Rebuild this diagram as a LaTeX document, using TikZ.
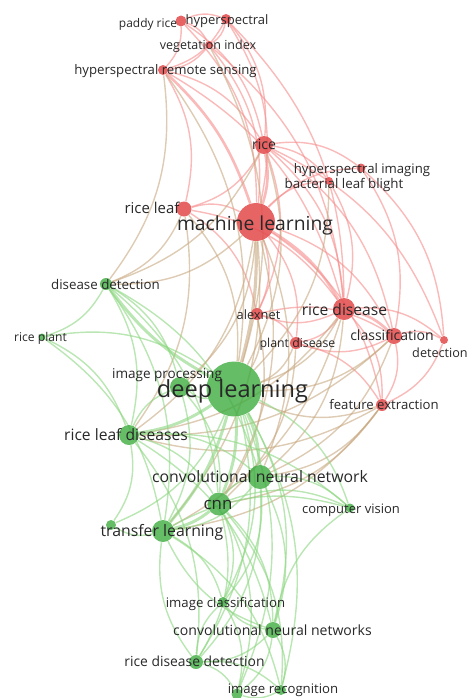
\documentclass[tikz,border=0pt]{standalone}
\usepackage{fontspec}
\newfontfamily\labelfont{Open Sans}
\usetikzlibrary{backgrounds}
\definecolor{nodered}{RGB}{228,78,80}
\definecolor{nodegreen}{RGB}{62,172,64}
\definecolor{linkred}{RGB}{246,140,140}
\definecolor{linkgreen}{RGB}{140,214,128}
\definecolor{linkmix}{RGB}{200,168,128}
\definecolor{labeltext}{RGB}{40,40,40}
\begin{document}
\begin{tikzpicture}[
    x=0.02cm, y=-0.02cm,
    kwred/.style={circle, fill=nodered, fill opacity=0.88, inner sep=0, minimum size=#1*0.02cm},
    kwgreen/.style={circle, fill=nodegreen, fill opacity=0.8, inner sep=0, minimum size=#1*0.02cm},
    kwlabel/.style={font=\labelfont\fontsize{#1}{#1}\selectfont, text=labeltext, anchor=base, inner sep=0},
    redlink/.style={draw=linkred, line width=0.8pt, opacity=0.6},
    greenlink/.style={draw=linkgreen, line width=0.8pt, opacity=0.6},
    mixlink/.style={draw=linkmix, line width=0.8pt, opacity=0.6}
]
    \useasboundingbox (0,0) rectangle (470,698);

    \node[kwred=11] (paddy) at (181,21) {};
    \node[kwred=10] (hyper) at (226,19) {};
    \node[kwred=8] (vegidx) at (209,45) {};
    \node[kwred=10] (hrs) at (163,70) {};
    \node[kwred=18] (rice) at (264,145) {};
    \node[kwred=9] (hsimg) at (361,168) {};
    \node[kwred=8] (blight) at (329,181) {};
    \node[kwred=15] (riceleaf) at (184,209) {};
    \node[kwred=38] (ml) at (256,222) {};
    \node[kwred=12] (alexnet) at (257,314) {};
    \node[kwred=22] (ricedis) at (344,309) {};
    \node[kwred=12] (plantdis) at (296,343) {};
    \node[kwred=16] (classif) at (394,336) {};
    \node[kwred=8] (detect) at (444,340) {};
    \node[kwred=12] (featext) at (382,405) {};

    \node[kwgreen=12] (disdet) at (106,284) {};
    \node[kwgreen=7] (riceplant) at (42,337) {};
    \node[kwgreen=20] (imgproc) at (180,387) {};
    \node[kwgreen=55] (dl) at (234,389) {};
    \node[kwgreen=20] (rldis) at (129,435) {};
    \node[kwgreen=24] (cnnet) at (260,477) {};
    \node[kwgreen=23] (cnn) at (219,504) {};
    \node[kwgreen=9] (compvis) at (350,508) {};
    \node[kwgreen=22] (transfer) at (163,531) {};
    \node[kwgreen=10] (extra1) at (111,525) {};
    \node[kwgreen=10] (imgclass) at (223,602) {};
    \node[kwgreen=16] (cnnets) at (273,630) {};
    \node[kwgreen=14] (rdd) at (196,662) {};
    \node[kwgreen=10] (imgrec) at (281,690) {};
    \node[kwgreen=11] (extra2) at (237,694) {};

    \begin{pgfonlayer}{background}
    \foreach \a/\b in {paddy/hyper, paddy/hrs, paddy/vegidx, hyper/vegidx, hyper/hrs, vegidx/hrs,
        paddy/rice, hyper/rice, hrs/rice, vegidx/ml, hyper/ml, paddy/ml, hyper/ricedis, vegidx/ricedis,
        hrs/riceleaf, hrs/ricedis, rice/hsimg, rice/blight, rice/riceleaf, rice/ricedis, rice/classif,
        rice/alexnet, rice/detect, riceleaf/ml, riceleaf/ricedis, riceleaf/alexnet, ml/classif,
        ml/alexnet, ml/plantdis, ml/featext, ml/blight, ml/hsimg, blight/ricedis, hsimg/classif,
        hsimg/detect, ricedis/alexnet, ricedis/plantdis, ricedis/featext, ricedis/detect,
        classif/featext, classif/detect, classif/plantdis, alexnet/plantdis, alexnet/classif,
        plantdis/featext, detect/featext}
        \draw[redlink] (\a) to[bend left=22] (\b);
    \foreach \a/\b in {hrs/ml, rice/ml, ml/ricedis, ricedis/classif}
        \draw[redlink, line width=1.5pt] (\a) to[bend left=14] (\b);

    \foreach \a/\b in {ml/disdet, ml/rldis, ml/cnn, ml/cnnet, ml/imgproc, ml/transfer, rice/dl,
        rice/disdet, riceleaf/dl, riceleaf/rldis, riceleaf/disdet, ricedis/dl, ricedis/cnnet,
        ricedis/rldis, ricedis/transfer, classif/dl, classif/cnnet, classif/rldis, alexnet/dl,
        alexnet/cnn, plantdis/dl, plantdis/cnn, featext/dl, featext/rldis, featext/cnn,
        featext/transfer, featext/cnnet, hrs/dl, hrs/disdet, vegidx/dl, blight/dl}
        \draw[mixlink] (\a) to[bend left=22] (\b);
    \draw[mixlink, line width=1.8pt] (ml) to[bend left=8] (dl);

    \foreach \a/\b in {disdet/riceplant, disdet/rldis, disdet/cnn, disdet/cnnet, disdet/transfer,
        riceplant/dl, riceplant/transfer, riceplant/rldis, dl/imgproc, dl/compvis, dl/imgclass,
        dl/cnnets, dl/rdd, dl/imgrec, dl/extra1, dl/extra2, rldis/cnn, rldis/cnnet, rldis/imgproc,
        rldis/rdd, rldis/compvis, rldis/extra1, rldis/cnnets, cnn/cnnet, cnn/compvis, cnn/imgclass,
        cnn/cnnets, cnn/rdd, cnn/imgrec, cnn/extra2, cnnet/transfer, cnnet/compvis, cnnet/imgclass,
        cnnet/cnnets, cnnet/rdd, cnnets/imgclass, cnnets/rdd, cnnets/imgrec, cnnets/transfer,
        cnnets/extra2, cnnets/compvis, rdd/imgrec, rdd/imgclass, rdd/transfer, rdd/extra2,
        transfer/extra1, transfer/imgclass, transfer/compvis, transfer/imgrec, imgrec/extra2,
        imgclass/extra2, imgproc/cnn, imgproc/transfer, disdet/imgproc}
        \draw[greenlink] (\a) to[bend left=22] (\b);
    \foreach \a/\b in {dl/rldis, dl/cnnet, dl/cnn, dl/transfer, cnn/transfer, dl/disdet}
        \draw[greenlink, line width=1.7pt] (\a) to[bend left=12] (\b);
    \end{pgfonlayer}

    \node[kwlabel=6.8] (paddy-t) at (148,27) {paddy rice};
    \node[kwlabel=7.4] (hyper-t) at (227,24) {hyperspectral};
    \node[kwlabel=7.1] (vegidx-t) at (208,49) {vegetation index};
    \node[kwlabel=7.5] (hrs-t) at (165.5,74) {hyperspectral remote sensing};
    \node[kwlabel=8] (rice-t) at (264,149) {rice};
    \node[kwlabel=7.5] (hsimg-t) at (362,173) {hyperspectral imaging};
    \node[kwlabel=7.6] (blight-t) at (344,188) {bacterial leaf blight};
    \node[kwlabel=8.5] (riceleaf-t) at (152,213) {rice leaf};
    \node[kwlabel=11] (ml-t) at (255,230) {machine learning};
    \node[kwlabel=7.6] (disdet-t) at (105.5,289) {disease detection};
    \node[kwlabel=6.9] (riceplant-t) at (40.5,341) {rice plant};
    \node[kwlabel=7.3] (alexnet-t) at (258.5,319) {alexnet};
    \node[kwlabel=8.9] (ricedis-t) at (344.5,315) {rice disease};
    \node[kwlabel=7] (plantdis-t) at (297.5,347) {plant disease};
    \node[kwlabel=8] (classif-t) at (392,340) {classification};
    \node[kwlabel=7.2] (detect-t) at (440,357) {detection};
    \node[kwlabel=7.7] (imgproc-t) at (167,378) {image processing};
    \node[kwlabel=13.4] (dl-t) at (232.5,397) {deep learning};
    \node[kwlabel=7.5] (featext-t) at (384,409) {feature extraction};
    \node[kwlabel=8.9] (rldis-t) at (126,440) {rice leaf diseases};
    \node[kwlabel=9] (cnnet-t) at (260,482) {convolutional neural network};
    \node[kwlabel=9.6] (cnn-t) at (218,509) {cnn};
    \node[kwlabel=7.4] (compvis-t) at (351,513) {computer vision};
    \node[kwlabel=9] (transfer-t) at (162,536) {transfer learning};
    \node[kwlabel=7.5] (imgclass-t) at (225.5,607) {image classification};
    \node[kwlabel=8] (cnnets-t) at (272.5,635) {convolutional neural networks};
    \node[kwlabel=7.9] (rdd-t) at (194.5,666) {rice disease detection};
    \node[kwlabel=7.5] (imgrec-t) at (283,693) {image recognition};
\end{tikzpicture}
\end{document}
